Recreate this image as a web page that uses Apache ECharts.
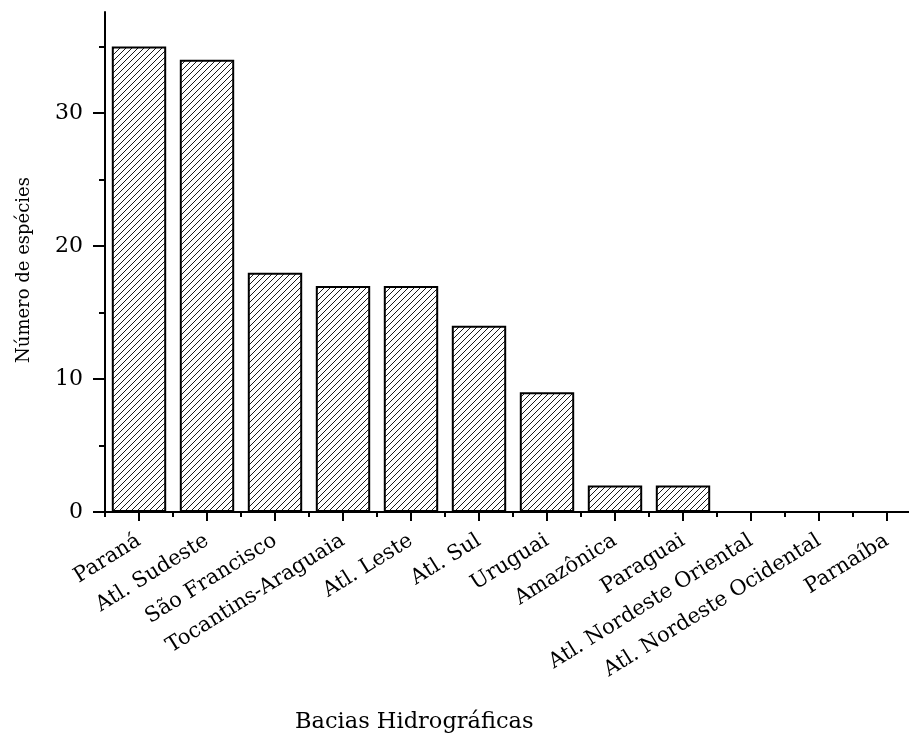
<!DOCTYPE html>
<html>
<head>
<meta charset="utf-8">
<script src="https://cdn.jsdelivr.net/npm/echarts@6/dist/echarts.min.js"></script>
<style>
  html, body { margin: 0; padding: 0; background: #fff; }
  #chart { width: 909px; height: 735px; }
</style>
</head>
<body>
<div id="chart"></div>
<script>
// Fish species per hydrographic basin
const basins = [
  'Paraná', 'Atl. Sudeste', 'São Francisco', 'Tocantins-Araguaia', 'Atl. Leste',
  'Atl. Sul', 'Uruguai', 'Amazônica', 'Paraguai', 'Atl. Nordeste Oriental',
  'Atl. Nordeste Ocidental', 'Parnaíba'
];
const speciesCount = [35, 34, 18, 17, 17, 14, 9, 2, 2, 0, 0, 0];
const yMajorTicks = [0, 10, 20, 30];
const yMinorTicks = [5, 15, 25, 35];
const yMax = 37.6;

const FONT = 'DejaVu Serif';
const INK = '#000';

// Diagonal "///" hatch tile used as the bar fill
function hatchPattern() {
  const s = 6;
  const c = document.createElement('canvas');
  c.width = s; c.height = s;
  const g = c.getContext('2d');
  g.fillStyle = '#fff';
  g.fillRect(0, 0, s, s);
  g.strokeStyle = '#1a1a1a';
  g.lineWidth = 1;
  g.beginPath();
  g.moveTo(-1, s + 1); g.lineTo(s + 1, -1);
  g.moveTo(-1, 1); g.lineTo(1, -1);
  g.moveTo(s - 1, s + 1); g.lineTo(s + 1, s - 1);
  g.stroke();
  return c;
}

const chart = echarts.init(document.getElementById('chart'), null, { renderer: 'canvas' });

const lineStyle = { color: INK, width: 2 };

chart.setOption({
  animation: false,
  backgroundColor: '#fff',
  title: {
    text: 'Bacias Hidrográficas',
    left: 295,
    top: 711,
    padding: 0,
    textStyle: { fontFamily: FONT, fontSize: 22.5, fontWeight: 'normal', color: INK }
  },
  // plot area runs a little past the right edge of the page
  grid: {
    left: 105, width: 816, top: 12, bottom: 223,
    containLabel: false, outerBoundsMode: 'none'
  },
  xAxis: [
    {
      type: 'category',
      data: basins,
      position: 'bottom',
      axisLine: { show: true, lineStyle: lineStyle },
      axisTick: { show: true, alignWithLabel: true, interval: 0, length: 9, lineStyle: lineStyle },
      axisLabel: {
        interval: 0, rotate: 32, margin: 27,
        fontFamily: FONT, fontSize: 21, color: INK
      },
      splitLine: { show: false }
    },
    {
      // short ticks at the category boundaries
      type: 'category',
      data: basins,
      position: 'bottom',
      axisLine: { show: false },
      axisTick: { show: true, interval: 0, length: 5, lineStyle: lineStyle },
      axisLabel: { show: false },
      splitLine: { show: false }
    }
  ],
  yAxis: [
    {
      type: 'value',
      min: 0,
      max: yMax,
      position: 'left',
      axisLine: { show: true, lineStyle: lineStyle },
      axisTick: { show: true, length: 12, customValues: yMajorTicks, lineStyle: lineStyle },
      axisLabel: {
        customValues: yMajorTicks, margin: 22,
        fontFamily: FONT, fontSize: 22, color: INK
      },
      splitLine: { show: false },
      name: 'Número de espécies',
      nameLocation: 'middle',
      nameGap: 72,
      nameTextStyle: { fontFamily: FONT, fontSize: 18, color: INK, padding: [0, 16, 0, 0] }
    },
    {
      // minor ticks halfway between labelled values
      type: 'value',
      min: 0,
      max: yMax,
      position: 'left',
      offset: 0,
      axisLine: { show: false },
      axisTick: { show: true, length: 6, customValues: yMinorTicks, lineStyle: lineStyle },
      axisLabel: { show: false },
      splitLine: { show: false }
    }
  ],
  series: [
    {
      type: 'bar',
      xAxisIndex: 0,
      yAxisIndex: 0,
      data: speciesCount,
      barWidth: '80%',
      itemStyle: {
        color: { image: hatchPattern(), repeat: 'repeat' },
        borderColor: INK,
        borderWidth: 2
      }
    }
  ]
});
</script>
</body>
</html>
